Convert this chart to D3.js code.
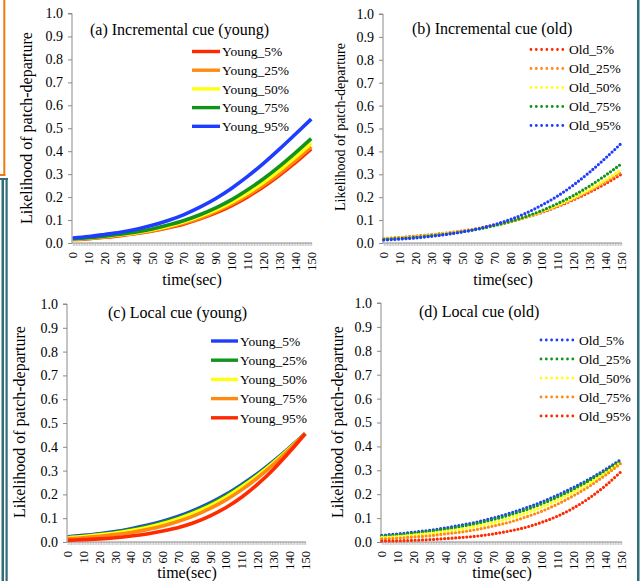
<!DOCTYPE html>
<html><head><meta charset="utf-8">
<script src="https://cdn.jsdelivr.net/npm/d3@7"></script>
<style>
body{margin:0;background:#fff}
text{font-family:"Liberation Serif","Times New Roman",serif;fill:#000}
</style>
</head><body><svg id="chart" width="641" height="581"></svg>
<script>
// ---------------- data ----------------
const timeSamples = [0,10,20,30,40,50,60,70,80,90,100,110,120,130,140,150];
const xTickLabels = ["0","10","20","30","40","50","60","70","80","90","100","110","120","130","140","150"];
const yTickValues = [0,0.1,0.2,0.3,0.4,0.5,0.6,0.7,0.8,0.9,1.0];
const yTickLabels = ["0.0","0.1","0.2","0.3","0.4","0.5","0.6","0.7","0.8","0.9","1.0"];
const panelTitles = ["(a) Incremental cue (young)","(b) Incremental cue (old)","(c) Local cue (young)","(d) Local cue (old)"];
const xAxisTitle = "time(sec)";
const yAxisTitle = "Likelihood of patch-departure";

// (a) Incremental cue, young
const incYoungNames = ["Young_5%","Young_25%","Young_50%","Young_75%","Young_95%"];
const incYoung5  = [0.015,0.019,0.025,0.032,0.041,0.052,0.066,0.083,0.105,0.131,0.163,0.201,0.245,0.295,0.350,0.410];
const incYoung25 = [0.016,0.020,0.026,0.034,0.043,0.054,0.069,0.087,0.109,0.137,0.169,0.208,0.253,0.303,0.359,0.420];
const incYoung50 = [0.017,0.022,0.028,0.036,0.045,0.058,0.073,0.092,0.116,0.144,0.178,0.218,0.265,0.317,0.374,0.435];
const incYoung75 = [0.018,0.023,0.030,0.038,0.048,0.061,0.078,0.098,0.123,0.153,0.189,0.232,0.280,0.334,0.393,0.455];
const incYoung95 = [0.022,0.028,0.037,0.047,0.060,0.077,0.098,0.124,0.156,0.194,0.239,0.290,0.347,0.409,0.474,0.540];

// (b) Incremental cue, old
const incOldNames = ["Old_5%","Old_25%","Old_50%","Old_75%","Old_95%"];
const incOld5  = [0.020,0.024,0.030,0.036,0.044,0.053,0.064,0.078,0.094,0.113,0.134,0.160,0.189,0.222,0.259,0.300];
const incOld25 = [0.019,0.023,0.029,0.035,0.043,0.052,0.064,0.078,0.094,0.113,0.136,0.163,0.193,0.228,0.267,0.310];
const incOld50 = [0.018,0.022,0.027,0.034,0.042,0.051,0.063,0.077,0.094,0.114,0.138,0.165,0.197,0.234,0.275,0.320];
const incOld75 = [0.016,0.020,0.025,0.032,0.039,0.049,0.061,0.076,0.094,0.116,0.142,0.173,0.208,0.249,0.295,0.345];
const incOld95 = [0.013,0.017,0.022,0.029,0.038,0.049,0.063,0.081,0.103,0.131,0.166,0.206,0.254,0.309,0.370,0.435];

// (c) Local cue, young
const locYoungNames = ["Young_5%","Young_25%","Young_50%","Young_75%","Young_95%"];
const locYoung5  = [0.022,0.028,0.035,0.044,0.056,0.070,0.087,0.108,0.134,0.164,0.200,0.242,0.288,0.340,0.396,0.455];
const locYoung25 = [0.020,0.025,0.032,0.041,0.052,0.066,0.083,0.103,0.129,0.159,0.195,0.237,0.284,0.337,0.395,0.455];
const locYoung50 = [0.018,0.023,0.030,0.038,0.048,0.061,0.078,0.098,0.123,0.153,0.189,0.232,0.280,0.334,0.393,0.455];
const locYoung75 = [0.014,0.018,0.024,0.031,0.040,0.052,0.067,0.087,0.111,0.141,0.177,0.220,0.270,0.326,0.389,0.455];
const locYoung95 = [0.007,0.010,0.013,0.018,0.025,0.034,0.046,0.061,0.082,0.110,0.145,0.189,0.243,0.306,0.378,0.455];

// (d) Local cue, old
const locOldNames = ["Old_5%","Old_25%","Old_50%","Old_75%","Old_95%"];
const locOld5  = [0.028,0.034,0.041,0.049,0.059,0.071,0.084,0.101,0.120,0.142,0.167,0.196,0.228,0.263,0.303,0.345];
const locOld25 = [0.025,0.030,0.037,0.045,0.054,0.065,0.078,0.094,0.113,0.134,0.159,0.188,0.220,0.257,0.297,0.340];
const locOld50 = [0.019,0.023,0.029,0.036,0.044,0.054,0.067,0.081,0.099,0.120,0.145,0.175,0.208,0.246,0.288,0.335];
const locOld75 = [0.013,0.016,0.021,0.026,0.034,0.042,0.053,0.067,0.083,0.104,0.128,0.158,0.193,0.233,0.279,0.330];
const locOld95 = [0.004,0.005,0.007,0.010,0.014,0.019,0.025,0.034,0.046,0.061,0.082,0.108,0.142,0.184,0.235,0.295];

// ---------------- styling / layout ----------------
const C = {red:"#ff2a00", orange:"#ff8a12", yellow:"#ffff10", green:"#13931a", blue:"#1f3dff"};

const panels = [
  {title:panelTitles[0], dotted:false, names:incYoungNames,
   series:[incYoung5,incYoung25,incYoung50,incYoung75,incYoung95],
   colors:[C.red,C.orange,C.yellow,C.green,C.blue],
   L:72,R:312,T:13.5,B:243, titleX:90,titleY:35,
   legX1:192,legX2:220,legTX:222,legY:51.5,legStep:18.7,
   yLabX:32,yLabY:128,yLabSize:16, xLabX:192,xLabY:285},
  {title:panelTitles[1], dotted:true, names:incOldNames,
   series:[incOld5,incOld25,incOld50,incOld75,incOld95],
   colors:[C.red,C.orange,C.yellow,C.green,C.blue],
   L:383,R:622,T:14,B:243, titleX:412,titleY:34,
   legX1:531,legX2:567,legTX:569,legY:49.5,legStep:19,
   yLabX:345,yLabY:127,yLabSize:14, xLabX:503,xLabY:285},
  {title:panelTitles[2], dotted:false, names:locYoungNames,
   series:[locYoung5,locYoung25,locYoung50,locYoung75,locYoung95],
   colors:[C.blue,C.green,C.yellow,C.orange,C.red],
   L:67,R:306,T:304,B:542, titleX:108,titleY:318,
   legX1:211,legX2:238,legTX:240,legY:341,legStep:19.2,
   yLabX:25,yLabY:422,yLabSize:16, xLabX:187,xLabY:578},
  {title:panelTitles[3], dotted:true, names:locOldNames,
   series:[locOld5,locOld25,locOld50,locOld75,locOld95],
   colors:[C.blue,C.green,C.yellow,C.orange,C.red],
   L:381,R:622,T:303,B:542, titleX:419,titleY:317,
   legX1:541,legX2:577,legTX:579,legY:340,legStep:19,
   yLabX:343,yLabY:422,yLabSize:16, xLabX:502,xLabY:578}
];

const svg = d3.select("#chart");

// slide decorations
svg.append("rect").attr("x",3.3).attr("y",0).attr("width",2).attr("height",176).attr("fill","#f07a10");
svg.append("rect").attr("x",0).attr("y",174).attr("width",5.3).attr("height",2).attr("fill","#f07a10");
svg.append("rect").attr("x",0).attr("y",178).attr("width",8).attr("height",2).attr("fill","#2f6e78");
svg.append("rect").attr("x",1.5).attr("y",178).attr("width",2.5).attr("height",403).attr("fill","#2f6e78");
svg.append("rect").attr("x",5.5).attr("y",178).attr("width",2.2).attr("height",403).attr("fill","#2f6e78");
svg.append("rect").attr("x",637).attr("y",0).attr("width",2.5).attr("height",581).attr("fill","#2f6e78");

const axisColor = "#8a8a8a";

panels.forEach(p => {
  const g = svg.append("g");
  const x = d3.scaleLinear().domain([-0.5,150.5]).range([p.L,p.R]);
  const y = d3.scaleLinear().domain([0,1]).range([p.B,p.T]);

  // y axis
  const yAxis = d3.axisLeft(y).tickValues(yTickValues)
      .tickFormat((d,i)=>yTickLabels[i]).tickSize(4).tickPadding(5);
  const ya = g.append("g").attr("transform",`translate(${p.L},0)`).call(yAxis);
  ya.select(".domain").attr("stroke",axisColor).attr("d",`M-4,${p.T}H0V${p.B}`);
  ya.selectAll(".tick line").attr("stroke",axisColor);
  ya.selectAll(".tick text").attr("font-size",14).attr("font-family",'"Liberation Serif",serif').attr("fill","#000");

  // x axis: minor ticks every second
  const xAxis = d3.axisBottom(x).tickValues(d3.range(0,151)).tickSize(3).tickFormat("");
  const xa = g.append("g").attr("transform",`translate(0,${p.B})`).call(xAxis);
  xa.select(".domain").attr("stroke",axisColor).attr("d",`M${p.L},0H${p.R}`);
  xa.selectAll(".tick line").attr("stroke","#a0a0a0").attr("stroke-width",0.6);
  // rotated labels
  g.selectAll("text.xt").data(timeSamples).enter().append("text").attr("class","xt")
    .attr("transform",d=>`translate(${x(d)},${p.B+9}) rotate(-90)`)
    .attr("text-anchor","end").attr("dy","0.35em").attr("font-size",12.5)
    .text((d,i)=>xTickLabels[i]);

  // axis titles
  g.append("text").attr("x",p.xLabX).attr("y",p.xLabY).attr("text-anchor","middle")
    .attr("font-size",16).text(xAxisTitle);
  g.append("text").attr("transform",`translate(${p.yLabX},${p.yLabY}) rotate(-90)`)
    .attr("text-anchor","middle").attr("font-size",p.yLabSize).text(yAxisTitle);

  // panel title
  g.append("text").attr("x",p.titleX).attr("y",p.titleY).attr("font-size",16).text(p.title);

  // series lines
  const line = d3.line().x((d,i)=>x(timeSamples[i])).y(d=>y(d)).curve(d3.curveMonotoneX);
  p.series.forEach((s,k) => {
    const path = g.append("path").datum(s).attr("d",line).attr("fill","none")
      .attr("stroke",p.colors[k]);
    if (p.dotted) path.attr("stroke-width",3.2).attr("stroke-dasharray","0 3.7").attr("stroke-linecap","round");
    else path.attr("stroke-width",3.6).attr("stroke-linecap","butt");
  });

  // legend
  p.names.forEach((n,k) => {
    const yy = p.legY + k*p.legStep;
    const l = g.append("line").attr("x1",p.legX1).attr("x2",p.legX2).attr("y1",yy).attr("y2",yy)
      .attr("stroke",p.colors[k]);
    if (p.dotted) l.attr("stroke-width",2.8).attr("stroke-dasharray","0 5.3").attr("stroke-linecap","round");
    else l.attr("stroke-width",3.4);
    g.append("text").attr("x",p.legTX).attr("y",yy).attr("dy","0.35em").attr("font-size",13.5).text(n);
  });
});
</script></body></html>
